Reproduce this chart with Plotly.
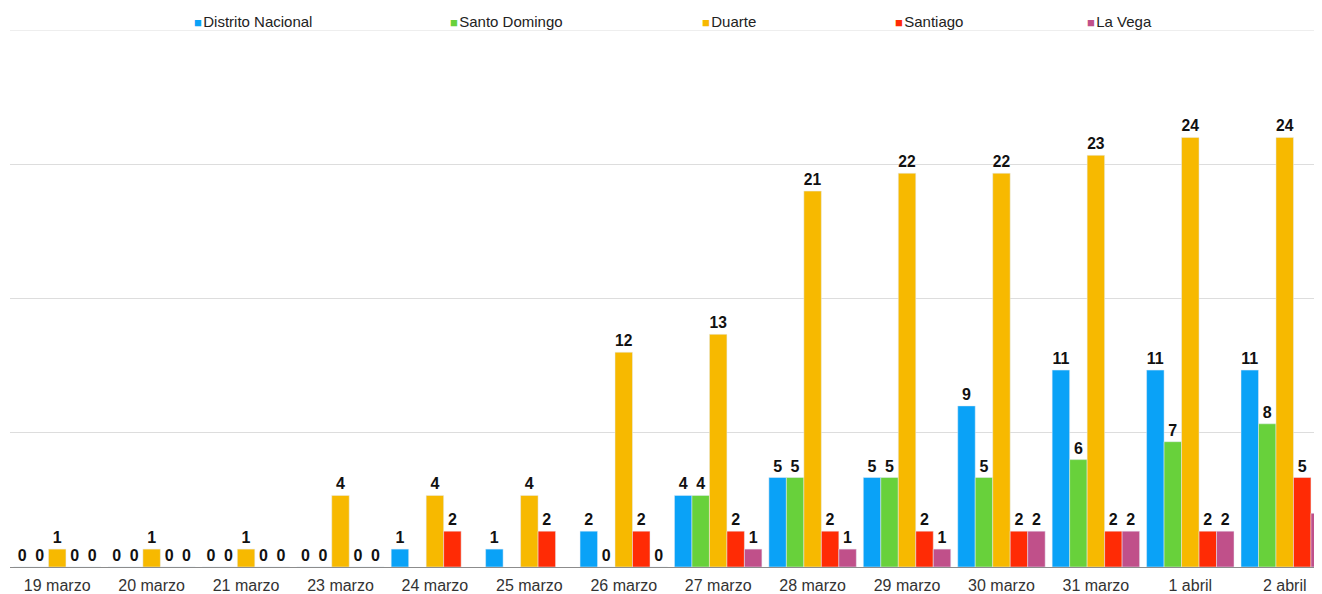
import plotly.graph_objects as go

dates = ["19 marzo", "20 marzo", "21 marzo", "23 marzo", "24 marzo", "25 marzo",
         "26 marzo", "27 marzo", "28 marzo", "29 marzo", "30 marzo", "31 marzo",
         "1 abril", "2 abril"]

distrito_nacional = [0, 0, 0, 0, 1, 1, 2, 4, 5, 5, 9, 11, 11, 11]
santo_domingo = [0, 0, 0, 0, None, None, 0, 4, 5, 5, 5, 6, 7, 8]
duarte = [1, 1, 1, 4, 4, 4, 12, 13, 21, 22, 22, 23, 24, 24]
santiago = [0, 0, 0, 0, 2, 2, 2, 2, 2, 2, 2, 2, 2, 5]
la_vega = [0, 0, 0, 0, None, None, 0, 1, 1, 1, 2, 2, 2, 3]

series = [
    ("Distrito Nacional", distrito_nacional, "#0aa2f7"),
    ("Santo Domingo", santo_domingo, "#68d13b"),
    ("Duarte", duarte, "#f7b900"),
    ("Santiago", santiago, "#ff2b05"),
    ("La Vega", la_vega, "#c0508a"),
]

# legend item positions (px from left of page)
legend_x = [192, 448, 700, 893, 1085]

# the html body has an 8px margin, so the figure sits at (8, 8) in the page
# and can be at most 1322 - 16 px wide
OFF = 8
W, H = 1322 - 2 * OFF, 594 - OFF
ML, MR, MT, MB = 10 - OFF, 0, 30 - OFF, 27
plot_w = W - ML - MR
plot_h = H - MT - MB

fig = go.Figure()
for name, vals, color in series:
    fig.add_trace(go.Bar(
        name=name,
        x=dates,
        y=vals,
        marker_color=color,
        text=[("" if v is None else str(v)) for v in vals],
        textposition="outside",
        textfont=dict(family="Liberation Sans, Arial", size=16, color="#111111",
                      weight="bold"),
        cliponaxis=False,
        showlegend=False,
    ))

# hand-made legend: coloured square + label
for (name, vals, color), lx in zip(series, legend_x):
    fig.add_annotation(
        xref="paper", yref="paper",
        x=(lx - OFF - ML) / plot_w, y=1 + (30 - 21) / plot_h,
        xanchor="left", yanchor="middle",
        text=(f"<span style='color:{color}; font-size:13px'>■</span>"
              f"<span style='font-size:5px'> </span>{name}"),
        showarrow=False,
        font=dict(family="Liberation Sans, Arial", size=15, color="#222222"),
    )

# top gridline (plotly skips grid lines sitting on the plot edge)
fig.add_shape(type="line", xref="paper", yref="y", x0=0, x1=1, y0=30, y1=30,
              line=dict(color="#dddddd", width=1), layer="below")

fig.update_layout(
    width=W,
    height=H,
    margin=dict(l=ML, r=MR, t=MT, b=MB, autoexpand=False),
    plot_bgcolor="white",
    paper_bgcolor="white",
    barmode="group",
    bargap=0.074,
    bargroupgap=0,
    font=dict(family="Liberation Sans, Arial", size=16, color="#333333"),
)
fig.update_xaxes(
    type="category",
    range=[-0.5, 13.31],
    showline=True,
    linecolor="#8c8c8c",
    linewidth=1,
    showgrid=False,
    ticks="",
    ticklabelstandoff=4,
    tickfont=dict(size=16, color="#333333"),
)
fig.update_yaxes(
    range=[0, 30],
    tickvals=[7.5, 15, 22.5],
    showgrid=True,
    gridcolor="#dddddd",
    zeroline=False,
    showticklabels=False,
)

fig.write_html("out.html")
